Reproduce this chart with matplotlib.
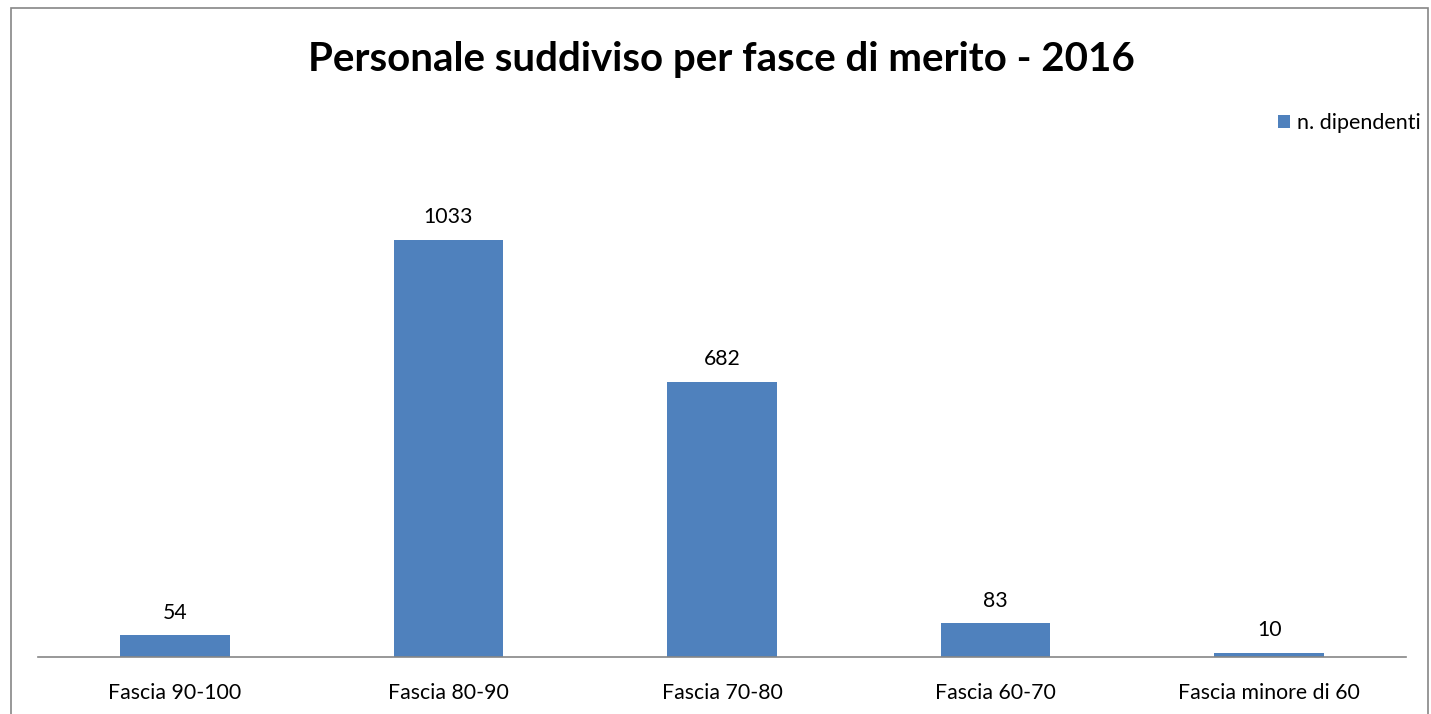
import matplotlib.pyplot as plt
from matplotlib.patches import Rectangle

# dati
categorie = ['Fascia 90-100', 'Fascia 80-90', 'Fascia 70-80', 'Fascia 60-70', 'Fascia minore di 60']
dipendenti = [54, 1033, 682, 83, 10]

plt.rcParams['font.family'] = ['Lato', 'DejaVu Sans']

fig = plt.figure(figsize=(14.31, 7.14), dpi=100)
ax = fig.add_axes([38/1431, 1-657/714, (1406-38)/1431, 537/714])

x = range(len(categorie))
barre = ax.bar(x, dipendenti, width=0.4, color='#4F81BD', label='n. dipendenti')
ax.bar_label(barre, padding=9, fontsize=15.3)

ax.set_xlim(-0.5, len(categorie) - 0.5)
ax.set_ylim(0, 1330)
ax.set_xticks(list(x))
ax.set_xticklabels(categorie, fontsize=15.3)
ax.tick_params(axis='x', length=0, pad=19)
ax.set_yticks([])
for lato in ['top', 'right', 'left']:
    ax.spines[lato].set_visible(False)
ax.spines['bottom'].set_color('#868686')
ax.spines['bottom'].set_linewidth(1.2)

fig.text(721/1431, 1-60/714, 'Personale suddiviso per fasce di merito - 2016',
         ha='center', va='center', fontsize=29, fontweight='bold')

fig.legend(loc='upper left', bbox_to_anchor=(1278/1431, 1-113/714), frameon=False,
           fontsize=15.5, handlelength=0.55, handleheight=0.55, handletextpad=0.35,
           borderaxespad=0, borderpad=0)

# bordo del grafico
fig.patches.append(Rectangle((11/1431, -0.1), (1428-11)/1431, 1.1-8/714,
                             transform=fig.transFigure, fill=False,
                             edgecolor='#868686', linewidth=1.2))

plt.savefig('out.png', dpi=100)
